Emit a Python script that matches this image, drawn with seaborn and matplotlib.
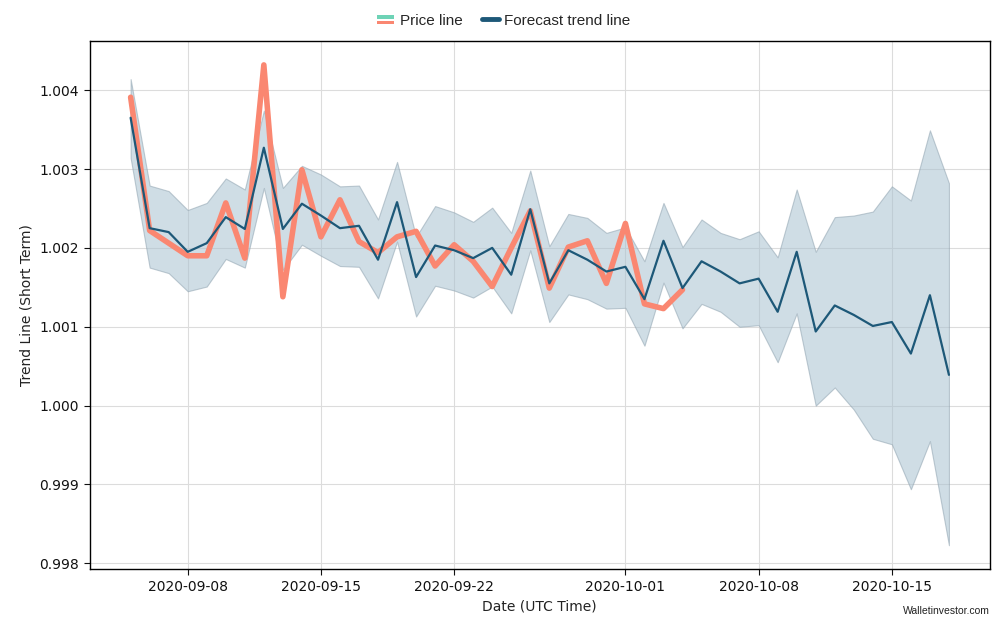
import numpy as np
import pandas as pd
import seaborn as sns
import matplotlib
matplotlib.use("Agg")
import matplotlib.pyplot as plt
import matplotlib.patches as mpatches
from matplotlib.lines import Line2D
from matplotlib.legend_handler import HandlerBase

# daily values, starting 2020-09-05
start_date = "2020-09-05"

forecast = [1.00365, 1.00225, 1.00220, 1.00195, 1.00206, 1.00239, 1.00224, 1.00327,
            1.00224, 1.00256, 1.00241, 1.00225, 1.00228, 1.00185, 1.00258, 1.00163,
            1.00203, 1.00197, 1.00187, 1.00200, 1.00166, 1.00249, 1.00155, 1.00197,
            1.00185, 1.00170, 1.00176, 1.00135, 1.00209, 1.00149, 1.00183, 1.00170,
            1.00155, 1.00161, 1.00119, 1.00195, 1.00094, 1.00127, 1.00115, 1.00101,
            1.00106, 1.00066, 1.00140, 1.00039]

upper = [1.00414, 1.00279, 1.00272, 1.00248, 1.00257, 1.00288, 1.00274, 1.00374,
         1.00276, 1.00304, 1.00293, 1.00278, 1.00279, 1.00236, 1.00309, 1.00214,
         1.00253, 1.00245, 1.00233, 1.00251, 1.00219, 1.00298, 1.00202, 1.00243,
         1.00238, 1.00219, 1.00226, 1.00183, 1.00257, 1.00201, 1.00236, 1.00219,
         1.00211, 1.00221, 1.00188, 1.00274, 1.00195, 1.00239, 1.00241, 1.00246,
         1.00278, 1.00260, 1.00349, 1.00282]

lower = [1.00314, 1.00175, 1.00168, 1.00145, 1.00151, 1.00186, 1.00175, 1.00276,
         1.00172, 1.00204, 1.00190, 1.00177, 1.00176, 1.00136, 1.00208, 1.00113,
         1.00152, 1.00146, 1.00137, 1.00151, 1.00117, 1.00197, 1.00106, 1.00141,
         1.00135, 1.00123, 1.00124, 1.00076, 1.00156, 1.00098, 1.00129, 1.00119,
         1.00100, 1.00102, 1.00055, 1.00117, 1.00000, 1.00023, 0.99995, 0.99958,
         0.99951, 0.99894, 0.99955, 0.99823]

price = [1.00391, 1.00222, 1.00206, 1.00190, 1.00190, 1.00257, 1.00187, 1.00432,
         1.00138, 1.00299, 1.00214, 1.00261, 1.00208, 1.00194, 1.00214, 1.00221,
         1.00177, 1.00204, 1.00183, 1.00151, 1.00200, 1.00247, 1.00149, 1.00201,
         1.00209, 1.00155, 1.00231, 1.00129, 1.00123, 1.00147]

dates = pd.date_range(start_date, periods=len(forecast), freq="D")
df_fc = pd.DataFrame({"date": dates, "forecast": forecast, "upper": upper, "lower": lower})
df_price = pd.DataFrame({"date": dates[:len(price)], "price": price})

SALMON = "#fa8771"
TEAL = "#6ed3b6"
NAVY = "#1d5878"
BAND = "#a9c1d0"


class SplitHandler(HandlerBase):
    # two coloured stripes, one above the other
    def create_artists(self, legend, orig_handle, xdescent, ydescent,
                       width, height, fontsize, trans):
        h = height * 0.32
        top = mpatches.Rectangle((-xdescent, height * 0.55), width, h,
                                 facecolor=TEAL, edgecolor="none", transform=trans)
        bot = mpatches.Rectangle((-xdescent, height * 0.05), width, h,
                                 facecolor=SALMON, edgecolor="none", transform=trans)
        return [top, bot]


sns.set_theme(style="whitegrid")
plt.rcParams["font.family"] = ["DejaVu Sans"]

fig, ax = plt.subplots(figsize=(10.08, 6.29), dpi=100)
fig.subplots_adjust(left=0.089, right=0.982, top=0.935, bottom=0.095)

ax.fill_between(df_fc["date"], df_fc["lower"], df_fc["upper"],
                facecolor=BAND, edgecolor="#8fa3b0", linewidth=0.8, alpha=0.55)
sns.lineplot(data=df_price, x="date", y="price", ax=ax, color=SALMON,
             linewidth=4.0, solid_joinstyle="round", solid_capstyle="round", zorder=3)
sns.lineplot(data=df_fc, x="date", y="forecast", ax=ax, color=NAVY,
             linewidth=1.6, zorder=4)

ax.set_xticks(pd.to_datetime(["2020-09-08", "2020-09-15", "2020-09-22",
                              "2020-10-01", "2020-10-08", "2020-10-15"]))
ax.xaxis.set_major_formatter(matplotlib.dates.DateFormatter("%Y-%m-%d"))
ax.set_xlabel("Date (UTC Time)", fontsize=10, color="#222222")
ax.set_ylabel("Trend Line (Short Term)", fontsize=10, color="#222222")
ax.tick_params(axis="both", labelsize=10, colors="#111111", length=4, width=0.8,
               bottom=True, left=True)

ax.grid(True, color="#dcdcdc", linewidth=0.8)
for sp in ax.spines.values():
    sp.set_color("black")
    sp.set_linewidth(1.0)

price_handle = mpatches.Patch(label="Price line")
fc_handle = Line2D([], [], color=NAVY, linewidth=3.5, label="Forecast trend line")
fig.legend(handles=[price_handle, fc_handle], loc="upper center",
           bbox_to_anchor=(0.5, 1.0), ncol=2, frameon=False,
           handler_map={mpatches.Patch: SplitHandler()},
           prop={"family": "Liberation Sans", "size": 11},
           handlelength=1.1, columnspacing=1.3, handletextpad=0.35)

fig.text(0.982, 0.02, "Walletinvestor.com", ha="right", va="bottom",
         fontsize=7.5, color="#222222", family="Liberation Sans")

fig.savefig("out.png", dpi=100)
